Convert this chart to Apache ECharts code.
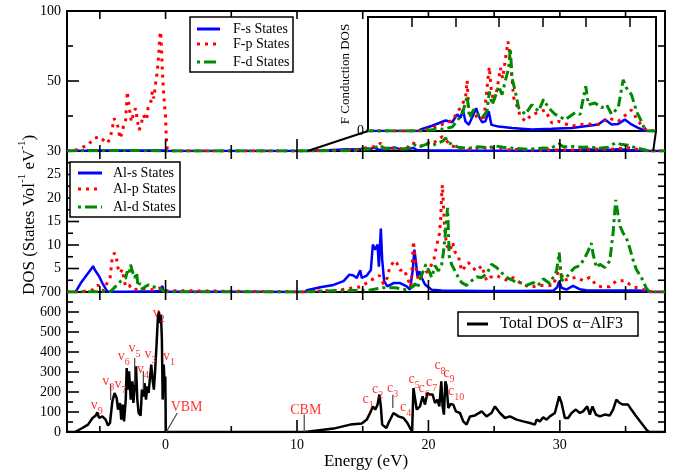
<!DOCTYPE html>
<html>
<head>
<meta charset="utf-8">
<script src="https://cdn.jsdelivr.net/npm/echarts@6/dist/echarts.min.js"></script>
<style>
html, body { margin: 0; padding: 0; background: #fff; }
#chart { width: 676px; height: 472px; }
</style>
</head>
<body>
<div id="chart"></div>
<script>
// ---- Energy axis ticks (eV) ----
const energyMajor = [0, 10, 20, 30];
const energyMinor = [-5, 5, 15, 25, 35];
const energyAll = [-5, 0, 5, 10, 15, 20, 25, 30, 35];

// ---- F partial DOS [energy, DOS] ----
const fS = [[-7.5,0],[-7,0.2],[-6,0.4],[-5.5,0.6],[-5,0.4],[-4,0.3],[-3,0.4],[-2,0.3],[-1,0.3],[-0.2,0.3],[0.1,0],[10.8,0],
  [11.03,0.17],[12.36,0.6],[13.89,1.2],[14.65,1.0],[15.22,1.9],[15.6,1.5],[15.87,2.4],[16.17,1.1],[16.55,0.7],[17.0,1.7],
  [17.39,2.6],[17.69,1.7],[18.07,1.0],[18.45,1.1],[18.83,2.25],[19.14,0.7],[19.97,0.5],[21.5,0.35],[23.78,0.17],[26.07,0.25],
  [28.35,0.35],[29.87,0.55],[31.39,0.75],[32.15,1.3],[32.91,0.75],[33.67,0.8],[34.43,1.3],[35.19,0.75],[35.95,0.35],[36.71,0.06],[37,0],[38,0]];
const fP = [[-7.5,0],[-7,0.3],[-6.66,1.2],[-5.9,4.3],[-5.44,9.0],[-5.06,10.2],[-4.43,5.5],[-4.23,9.0],[-4.05,16.2],[-3.92,23.3],
  [-3.8,20.9],[-3.62,17.4],[-3.47,9.0],[-3.29,13.8],[-3.16,19.8],[-3.04,22.1],[-2.91,42.4],[-2.83,36.4],[-2.73,28.8],[-2.6,20.9],
  [-2.4,28.1],[-2.28,30.5],[-2.15,22.1],[-2.02,15.0],[-1.9,17.4],[-1.7,25.7],[-1.44,22.1],[-1.34,30.5],[-1.14,34.0],[-1.01,42.4],
  [-0.89,37.6],[-0.76,48.3],[-0.63,56.7],[-0.51,69.8],[-0.46,80.5],[-0.38,85.2],[-0.3,72.1],[-0.25,57.9],[-0.13,38.8],[0.0,24.5],
  [0.05,10.2],[0.13,1.9],[0.3,0],[10.8,0],
  [12.36,0.36],[13.89,0.9],[14.65,1.2],[15.79,3.0],[16.17,3.77],[16.36,5.74],[16.55,2.25],[17.12,1.5],[17.69,1.9],[18.26,1.1],
  [18.75,6.0],[18.9,7.3],[19.14,4.5],[19.41,3.4],[19.78,4.7],[20.17,7.2],[20.43,6.0],[20.73,8.1],[21.04,10.2],[21.2,9.1],
  [21.43,6.8],[21.69,3.8],[22.07,2.85],[22.45,1.7],[23.02,1.1],[23.78,1.9],[24.54,2.1],[25.3,2.4],[26.07,0.9],[26.83,1.1],
  [28.35,0.55],[29.87,0.8],[31.39,0.75],[32.53,1.5],[33.67,1.1],[35.19,2.4],[35.95,1.1],[36.64,0.36],[37,0],[38,0]];
const fD = [[-7.5,0],[-6,0.2],[-4,0.3],[-3,0.3],[-2,0.3],[-1,0.2],[0.1,0],[10.8,0],
  [12.5,0.15],[13.5,0.2],[14.65,0.45],[15.79,1.9],[16.36,4.0],[16.63,1.5],[17.12,2.45],[17.61,1.9],[18.07,1.5],[18.64,2.25],
  [18.9,4.5],[19.22,3.0],[19.6,4.0],[19.97,5.1],[20.36,4.15],[20.73,5.7],[21.12,7.2],[21.31,9.4],[21.5,6.05],[21.88,4.5],
  [22.26,2.65],[23.02,1.9],[23.78,3.0],[24.54,2.25],[25.11,3.6],[25.68,2.65],[26.45,1.9],[27.59,1.3],[28.73,2.1],[29.3,1.9],
  [29.95,5.1],[30.25,3.0],[31.01,3.2],[31.77,2.65],[32.34,3.0],[32.91,1.9],[33.67,2.65],[34.24,5.85],[34.62,4.9],[35.19,4.15],
  [35.76,2.25],[36.33,1.1],[36.71,0.2],[37,0],[38,0]];

// ---- Al partial DOS [energy, DOS] ----
const alS = [[-7.5,0],[-6.85,0],[-6.45,1.9],[-6.07,3.35],[-5.69,4.77],[-5.52,5.5],[-5.4,4.8],[-5.31,4.4],[-5.06,3.35],[-4.81,1.9],
  [-4.43,0.1],[-4.0,0.05],[-3,0.05],[-2,0.1],[-1,0.1],[-0.4,0.2],[-0.25,1.3],[-0.15,0.1],[0,0],[10.6,0],
  [10.76,0.36],[11.77,1.0],[12.78,1.5],[13.54,2.3],[13.99,3.7],[14.3,3.5],[14.55,3.0],[14.81,4.6],[14.93,3.0],[15.31,3.5],
  [15.62,4.7],[15.77,10.1],[15.95,9.0],[16.13,10.1],[16.23,5.4],[16.38,13.5],[16.48,6.9],[16.63,2.3],[16.88,1.2],[17.34,1.9],
  [17.84,1.9],[18.35,1.2],[18.6,0.5],[18.81,4.7],[18.93,9.0],[19.06,6.2],[19.16,3.4],[19.31,4.4],[19.49,3.0],[19.74,1.6],
  [20.25,0.5],[21,0.3],[24,0.2],[27,0.2],[29.5,0.3],[29.8,1.0],[29.95,2.3],[30.13,0.9],[30.5,0.5],[31.0,1.3],[31.5,0.6],
  [32.0,0.36],[34,0.3],[36,0.3],[36.8,0.1],[37,0],[38,0]];
const alP = [[-7.5,0],[-6.5,0],[-5.85,0.3],[-5.5,0.5],[-5.14,1.5],[-4.93,0.4],[-4.7,0.3],[-4.48,1.75],[-4.23,2.8],[-4.05,7.6],
  [-3.87,8.3],[-3.72,6.9],[-3.62,5.1],[-3.47,4.05],[-3.29,4.8],[-3.16,2.6],[-3.04,1.2],[-2.78,1.5],[-2.53,0.5],[-1.9,0.6],
  [-1.0,0.5],[-0.38,0.85],[-0.1,0.3],[0.05,0],[10.6,0],
  [11.5,0.2],[13.0,0.3],[14.05,0.8],[14.86,1.1],[15.56,2.4],[15.82,2.8],[16.28,3.5],[16.58,1.7],[16.88,3.1],[17.04,5.1],
  [17.41,6.7],[17.59,6.2],[17.84,4.6],[18.15,4.8],[18.48,2.4],[18.68,1.1],[18.86,10.8],[18.93,8.7],[19.04,5.4],[19.24,2.4],
  [19.61,3.8],[19.99,4.5],[20.25,5.9],[20.42,7.0],[20.63,9.9],[20.83,12.4],[20.93,15.3],[21.0,20.3],[21.06,22.8],[21.14,18.5],
  [21.24,13.1],[21.39,9.9],[21.64,8.8],[21.84,10.6],[22.02,8.5],[22.27,7.8],[22.53,4.5],[22.78,5.3],[23.04,6.3],[23.29,5.3],
  [23.67,4.5],[24.05,5.6],[24.43,2.4],[24.68,3.1],[25.19,3.5],[25.69,2.8],[26.07,2.4],[26.45,3.1],[26.96,2.0],[27.72,1.0],
  [28.48,1.4],[29.49,1.4],[30.0,5.3],[30.26,2.4],[30.63,2.8],[31.27,3.1],[31.77,2.4],[32.28,3.1],[32.79,1.4],[33.16,1.1],
  [33.8,1.1],[34.3,2.4],[34.93,2.4],[35.56,1.1],[36.07,0.8],[36.58,0.3],[37,0],[38,0]];
const alD = [[-7.5,0],[-4.18,0.1],[-3.8,1.2],[-3.42,2.3],[-3.04,3.0],[-2.91,4.4],[-2.78,3.7],[-2.66,5.8],[-2.53,4.4],[-2.35,3.0],
  [-2.2,4.1],[-2.1,1.2],[-1.95,1.9],[-1.77,0.6],[-1.52,1.2],[-1.27,1.5],[-1.01,1.2],[-0.63,0.85],[-0.3,0.5],[0,0],[10.6,0],
  [12,0.2],[14,0.3],[15.5,0.4],[16.5,0.9],[17.5,0.9],[18.3,0.5],[18.81,1.1],[18.98,1.8],[19.16,0.8],[19.41,3.1],[19.61,4.5],
  [19.81,5.9],[19.99,4.8],[20.25,3.1],[20.5,5.6],[20.76,4.5],[21.01,5.9],[21.14,8.4],[21.26,11.5],[21.39,15.8],[21.46,17.9],
  [21.58,7.7],[21.76,5.9],[22.02,4.5],[22.27,3.1],[22.53,2.0],[22.9,1.4],[23.29,2.4],[23.67,3.2],[24.05,3.1],[24.43,3.8],
  [24.8,5.9],[25.19,5.2],[25.57,4.1],[25.95,3.1],[26.45,2.4],[26.96,2.0],[27.47,1.4],[27.97,2.0],[28.35,1.4],[28.73,2.8],
  [29.24,1.8],[29.75,4.5],[29.95,8.4],[30.13,2.4],[30.5,3.1],[30.89,4.5],[31.14,5.2],[31.52,5.6],[31.9,7.3],[32.15,8.7],
  [32.4,10.4],[32.53,8.0],[32.79,5.2],[33.04,5.9],[33.42,5.2],[33.8,6.6],[34.05,12.6],[34.25,19.6],[34.43,16.4],[34.6,13.9],
  [34.8,12.6],[35.06,11.5],[35.31,9.4],[35.56,6.9],[35.82,4.8],[36.2,3.1],[36.58,0.8],[36.83,0],[38,0]];

// ---- Total DOS [energy, DOS] ----
const totalDos = [[-7.5,0],[-6.9,0],[-6.33,20],[-5.9,37],[-5.56,70],[-5.31,82],[-5.19,98],[-5.06,70],[-4.81,78],[-4.56,62],
  [-4.38,32],[-4.23,45],[-4.05,153],[-3.88,195],[-3.72,170],[-3.62,112],[-3.47,145],[-3.37,62],[-3.26,137],[-3.16,53],
  [-3.03,162],[-2.96,320],[-2.86,212],[-2.78,303],[-2.65,162],[-2.55,253],[-2.45,145],[-2.35,228],[-2.25,328],[-2.15,162],
  [-2.05,95],[-1.9,82],[-1.8,212],[-1.7,178],[-1.6,245],[-1.49,162],[-1.39,228],[-1.29,195],[-1.19,270],[-1.09,337],
  [-0.99,262],[-0.89,212],[-0.79,312],[-0.68,445],[-0.58,578],[-0.51,603],[-0.43,545],[-0.35,587],[-0.28,462],[-0.22,162],
  [-0.14,337],[-0.07,228],[-0.02,278],[0.02,0],[10.6,0],
  [12.78,17],[14.05,37],[14.93,42],[15.31,62],[15.62,103],[15.77,128],[15.95,112],[16.13,137],[16.27,187],[16.38,128],
  [16.48,37],[16.63,37],[16.8,20],[16.96,45],[17.34,95],[17.72,78],[18.1,70],[18.4,45],[18.6,20],[18.76,3],[18.86,220],
  [18.98,212],[19.11,112],[19.36,128],[19.56,178],[19.74,137],[19.92,195],[20.12,187],[20.32,187],[20.5,145],[20.68,162],
  [20.83,128],[20.98,253],[21.08,128],[21.18,87],[21.29,253],[21.39,228],[21.51,120],[21.69,140],[21.89,137],[22.09,103],
  [22.4,95],[22.65,53],[22.9,37],[23.16,78],[23.54,83],[24.05,103],[24.42,78],[24.8,95],[25.06,128],[25.44,95],[25.82,70],
  [26.2,78],[26.71,62],[27.21,53],[27.72,45],[28.1,37],[28.23,62],[28.48,53],[28.73,73],[28.99,62],[29.24,78],[29.62,95],
  [29.95,178],[30.13,145],[30.38,70],[30.63,70],[30.89,95],[31.22,112],[31.52,95],[31.77,103],[32.08,128],[32.28,87],
  [32.48,128],[32.74,87],[33.04,78],[33.42,87],[33.8,83],[34.05,112],[34.3,162],[34.55,145],[34.8,137],[35.19,137],
  [35.44,112],[35.82,78],[36.2,45],[36.58,12],[36.78,0],[38,0]];

// ---- Peak labels on the total DOS: [letter, index, energy, DOS] ----
const peakLabels = [
  ['v','9',-5.24,134],['v','8',-4.37,254],['v','7',-3.42,238],['v','6',-3.19,377],['v','5',-2.37,417],
  ['v','4',-1.71,313],['v','3',-1.14,388],['v','2',-0.51,592],['v','1',0.27,379],
  ['c','1',15.41,161],['c','2',16.14,214],['c','3',17.27,219],['c','4',18.26,125],['c','5',18.91,261],
  ['c','6',19.67,219],['c','7',20.24,249],['c','8',20.88,331],['c','9',21.56,294],['c','10',22.1,201],
  ['VBM','',1.6,121],['CBM','',10.67,109]
];
// Pointer segments for some peaks: [[e1, d1], [e2, d2]]
const peakPointers = [
  [[-4.18,160],[-4.18,240]], [[-2.35,235],[-2.35,370]], [[-1.69,212],[-1.69,305]], [[17.29,120],[17.29,186]],
  [[10.55,0],[10.55,87]], [[0.05,0],[0.89,95]]
];

const FONT = 'Liberation Serif';
const BLACK = '#000';
const E_MIN = -7.5, E_MAX = 38;

const panels = [
  { top: 11,  height: 140, max: 100, step: 50,  hideZero: true },
  { top: 151, height: 141, max: 30,  step: 5,   hideZero: true },
  { top: 292, height: 140, max: 700, step: 100, hideZero: false }
];
const LEFT = 67, WIDTH = 598;
const noLine = () => ({ show: false, onZero: false });

const grid = [], xAxis = [], yAxis = [];
const axisIdx = [];
panels.forEach((p, i) => {
  const isBottom = i === panels.length - 1;
  grid.push({ left: LEFT, top: p.top, width: WIDTH, height: p.height, show: true,
              borderColor: BLACK, borderWidth: 2, backgroundColor: 'transparent' });
  axisIdx.push({ x: xAxis.length, y: yAxis.length });
  xAxis.push({
    gridIndex: i, type: 'value', min: E_MIN, max: E_MAX, position: 'bottom',
    axisLine: noLine(), splitLine: { show: false }, axisTick: { show: false },
    axisLabel: { show: isBottom, customValues: energyMajor, margin: 6,
                 fontFamily: FONT, fontSize: 14, color: BLACK },
    name: isBottom ? 'Energy (eV)' : '', nameLocation: 'middle', nameGap: 20,
    nameTextStyle: { fontFamily: FONT, fontSize: 17, color: BLACK }
  });
  yAxis.push({
    gridIndex: i, type: 'value', min: 0, max: p.max, interval: p.step, position: 'left',
    axisLine: noLine(), splitLine: { show: false }, axisTick: { show: false },
    axisLabel: { margin: 6, fontFamily: FONT, fontSize: 14, color: BLACK,
                 formatter: v => (p.hideZero && v === 0) ? '' : String(v) }
  });
});

// inset for the F conduction states
const insetGrid = grid.length;
grid.push({ left: 368, top: 17, width: 288, height: 114, show: true,
            borderColor: BLACK, borderWidth: 2, backgroundColor: '#fff', z: 5 });
const insetX = xAxis.length, insetY = yAxis.length;
xAxis.push({
  gridIndex: insetGrid, type: 'value', min: 5, max: 38, interval: 5, position: 'top', z: 5,
  axisLine: noLine(), splitLine: { show: false },
  axisTick: { show: true, inside: true, length: 10, lineStyle: { color: BLACK, width: 1.5 } },
  axisLabel: { show: false }
});
yAxis.push({
  gridIndex: insetGrid, type: 'value', min: 0, max: 13, position: 'left', z: 5,
  axisLine: noLine(), splitLine: { show: false }, axisTick: { show: false },
  axisLabel: { customValues: [0], margin: 4, fontFamily: FONT, fontSize: 14, color: BLACK },
  name: 'F Conduction DOS', nameLocation: 'middle', nameRotate: 90, nameGap: 16,
  nameTextStyle: { fontFamily: FONT, fontSize: 13, color: BLACK }
});

const blueStyle  = { color: '#0000ff', width: 2.5 };
const redStyle   = { color: '#ff0000', width: 3, type: [3, 5], cap: 'butt' };
const greenStyle = { color: '#008a00', width: 3, type: [10, 4, 3, 4], cap: 'butt' };

function curve(name, data, ax, style, z) {
  return { name, type: 'line', data, xAxisIndex: ax.x, yAxisIndex: ax.y,
           showSymbol: false, symbol: 'none', lineStyle: style, clip: true,
           z: z || 2, silent: true };
}

// inward ticks on all four sides of a panel, placed through the panel's own scales
// item: [side, value, length]; side 0 = left, 1 = right, 2 = bottom, 3 = top
function frameTicks(ax, p) {
  const items = [];
  energyMajor.forEach(v => items.push([2, v, 12]));
  energyMinor.forEach(v => items.push([2, v, 6]));
  energyAll.forEach(v => items.push([3, v, 8]));
  const half = p.step / 2;
  for (let k = 1; k * half < p.max - 1e-9; k++) {
    items.push([0, k * half, k % 2 === 0 ? 12 : 6]);
    items.push([1, k * half, 7]);
  }
  return {
    type: 'custom', xAxisIndex: ax.x, yAxisIndex: ax.y, silent: true, z: 3, clip: false,
    data: items,
    renderItem: (params, api) => {
      const side = api.value(0), v = api.value(1), len = api.value(2);
      let a, b;
      if (side === 0)      { a = api.coord([E_MIN, v]); b = [a[0] + len, a[1]]; }
      else if (side === 1) { a = api.coord([E_MAX, v]); b = [a[0] - len, a[1]]; }
      else if (side === 2) { a = api.coord([v, 0]);     b = [a[0], a[1] - len]; }
      else                 { a = api.coord([v, p.max]); b = [a[0], a[1] + len]; }
      return { type: 'line', shape: { x1: a[0], y1: a[1], x2: b[0], y2: b[1] },
               style: { stroke: BLACK, lineWidth: 1.6 } };
    }
  };
}

const series = [
  curve('F-s States', fS, axisIdx[0], blueStyle),
  curve('F-p States', fP, axisIdx[0], redStyle),
  curve('F-d States', fD, axisIdx[0], greenStyle),
  curve('Al-s States', alS, axisIdx[1], blueStyle),
  curve('Al-p States', alP, axisIdx[1], redStyle),
  curve('Al-d States', alD, axisIdx[1], greenStyle),
  curve('Total DOS', totalDos, axisIdx[2], { color: BLACK, width: 2.5 }),
  curve('F-s inset', fS, { x: insetX, y: insetY }, blueStyle, 6),
  curve('F-p inset', fP, { x: insetX, y: insetY }, redStyle, 6),
  curve('F-d inset', fD, { x: insetX, y: insetY }, greenStyle, 6)
];
panels.forEach((p, i) => series.push(frameTicks(axisIdx[i], p)));
peakPointers.forEach(seg => {
  series.push(curve('pointer', seg, axisIdx[2], { color: '#444', width: 1.2 }, 3));
});
series.push({
  type: 'scatter', xAxisIndex: axisIdx[2].x, yAxisIndex: axisIdx[2].y, silent: true,
  data: peakLabels.map(d => ({ value: [d[2], d[3]], name: d[0], sub: d[1] })),
  symbolSize: 1, itemStyle: { color: 'rgba(0,0,0,0)' }, z: 4,
  label: {
    show: true, position: 'inside',
    formatter: p => p.data.sub ? '{m|' + p.data.name + '}{s|' + p.data.sub + '}' : '{m|' + p.data.name + '}',
    rich: {
      m: { fontFamily: FONT, fontSize: 14, color: '#ff0000', lineHeight: 22 },
      s: { fontFamily: FONT, fontSize: 10, color: '#ff0000', verticalAlign: 'bottom' }
    }
  }
});

// legend boxes
function legendBox(x, y, w, h, rows, sampleX0, sampleX1, textX, fontSize) {
  const els = [{ type: 'rect', shape: { x, y, width: w, height: h }, z: 20,
                 style: { fill: '#fff', stroke: BLACK, lineWidth: 1.5 } }];
  rows.forEach(r => {
    els.push({ type: 'line', z: 21, shape: { x1: sampleX0, y1: r.y, x2: sampleX1, y2: r.y },
               style: { stroke: r.color, lineWidth: 3, lineDash: r.dash || null, lineCap: 'butt' } });
    els.push({ type: 'text', z: 21, x: textX, y: r.y,
               style: { text: r.text, fontFamily: FONT, fontSize, fill: BLACK, verticalAlign: 'middle' } });
  });
  return els;
}

const graphics = [].concat(
  legendBox(190, 17, 103, 55, [
    { y: 29, text: 'F-s States', color: '#0000ff' },
    { y: 44, text: 'F-p States', color: '#ff0000', dash: [3, 5] },
    { y: 62, text: 'F-d States', color: '#008a00', dash: [3, 4, 12, 4] }
  ], 197, 220, 233, 14),
  legendBox(70, 162, 110, 55, [
    { y: 173, text: 'Al-s States', color: '#0000ff' },
    { y: 189, text: 'Al-p States', color: '#ff0000', dash: [3, 5] },
    { y: 207, text: 'Al-d States', color: '#008a00', dash: [3, 4, 12, 4] }
  ], 78, 102, 113, 14),
  legendBox(458, 312, 180, 24, [
    { y: 324, text: 'Total DOS \u03b1\u2212AlF3', color: BLACK }
  ], 467, 488, 500, 16),
  [{
    type: 'text', x: 30, y: 215, rotation: Math.PI / 2, z: 20,
    style: {
      text: '{a|DOS (States Vol}{s|-1}{a| eV}{s|-1}{a|)}', align: 'center', verticalAlign: 'middle',
      rich: {
        a: { fontFamily: FONT, fontSize: 17, fill: BLACK, lineHeight: 26 },
        s: { fontFamily: FONT, fontSize: 11, fill: BLACK, verticalAlign: 'top' }
      }
    }
  }]
);

const chart = echarts.init(document.getElementById('chart'), null, { renderer: 'canvas' });
chart.setOption({ animation: false, backgroundColor: '#fff', grid, xAxis, yAxis, series, graphic: graphics });

// zoom-region connectors from the main F panel to the inset
const topFinder = { xAxisIndex: axisIdx[0].x, yAxisIndex: axisIdx[0].y };
const insetFinder = { xAxisIndex: insetX, yAxisIndex: insetY };
const a1 = chart.convertToPixel(topFinder, [10.8, 0]);
const b1 = chart.convertToPixel(insetFinder, [5, 0]);
const a2 = chart.convertToPixel(topFinder, [37.1, 0]);
const b2 = chart.convertToPixel(insetFinder, [38, 0]);
chart.setOption({
  graphic: graphics.concat([
    { type: 'line', z: 19, shape: { x1: a1[0], y1: a1[1], x2: b1[0], y2: b1[1] }, style: { stroke: BLACK, lineWidth: 2 } },
    { type: 'line', z: 19, shape: { x1: a2[0], y1: a2[1], x2: b2[0], y2: b2[1] }, style: { stroke: BLACK, lineWidth: 2 } }
  ])
});
</script>
</body>
</html>
